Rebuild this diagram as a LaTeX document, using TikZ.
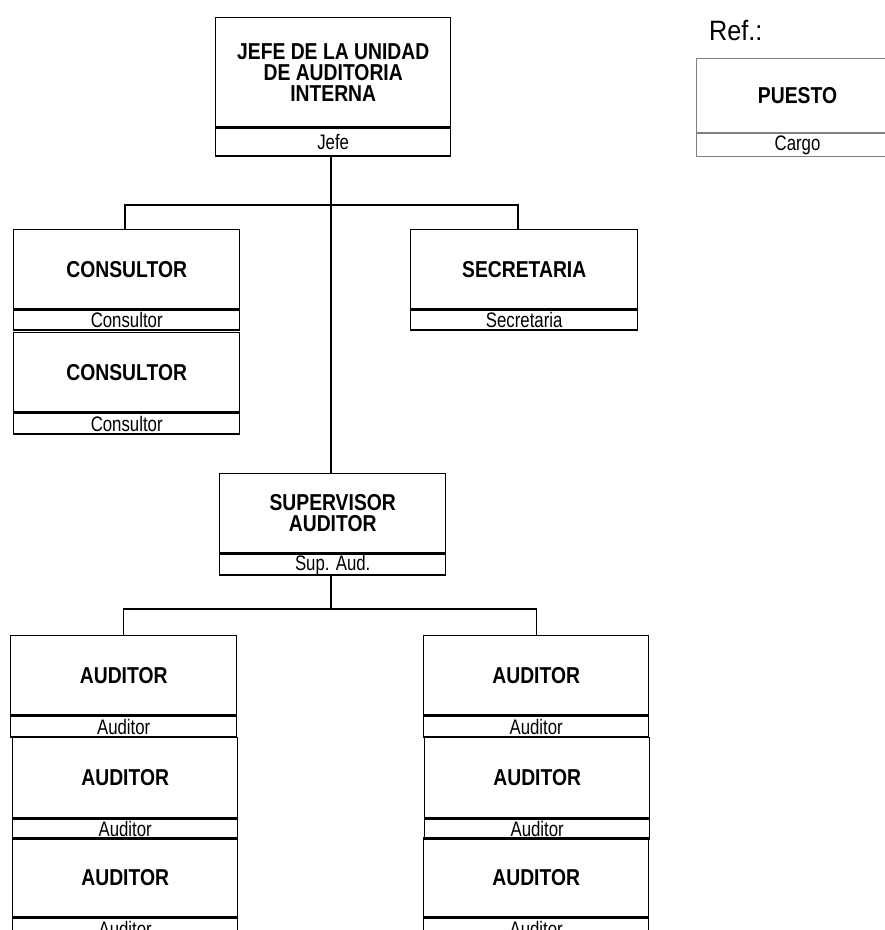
\documentclass[tikz,border=0pt]{standalone}
\usepackage{fontspec}
\setmainfont{Liberation Sans}
\newfontfamily\titlef[FakeStretch=0.84]{Liberation Sans}
\newfontfamily\labelf[FakeStretch=0.8]{Liberation Sans}
\newfontfamily\reff[FakeStretch=0.9]{Liberation Sans}
\begin{document}
\begin{tikzpicture}[x=1pt,y=-1pt,
  pbox/.style={draw, line width=1.4pt, inner sep=0pt, anchor=north west, align=center,
    font=\titlef\bfseries\fontsize{23}{21}\selectfont},
  lbox/.style={draw, line width=1.4pt, inner sep=0pt, anchor=north west,
    font=\labelf\fontsize{21}{20}\selectfont},
  conn/.style={line width=1.3pt}]
\useasboundingbox (0,0) rectangle (885,930);
\clip (0,0) rectangle (885,930);
\fill[white] (0,0) rectangle (885,930);

% Jefe
\node[pbox, minimum width=235pt, minimum height=109pt] (jefe) at (215,17) {JEFE DE LA UNIDAD\\DE AUDITORIA\\INTERNA};
\node[lbox, minimum width=235pt, minimum height=28pt] (jefeL) at (jefe.south west) {Jefe};

% Consultores
\node[pbox, minimum width=226pt, minimum height=79pt] (cons1) at (13,229) {CONSULTOR};
\node[lbox, minimum width=226pt, minimum height=20pt] (cons1L) at (cons1.south west) {Consultor};
\node[pbox, minimum width=226pt, minimum height=79pt] (cons2) at (13,332) {CONSULTOR};
\node[lbox, minimum width=226pt, minimum height=21pt] (cons2L) at (cons2.south west) {Consultor};

% Secretaria
\node[pbox, minimum width=227pt, minimum height=79pt] (sec) at (410,229) {SECRETARIA};
\node[lbox, minimum width=227pt, minimum height=20pt] (secL) at (sec.south west) {Secretaria};

% Supervisor
\node[pbox, minimum width=226pt, minimum height=79pt] (sup) at (219,473) {SUPERVISOR\\AUDITOR};
\node[lbox, minimum width=226pt, minimum height=21pt] (supL) at (sup.south west) {Sup. Aud.};

% Auditores izquierda
\node[pbox, minimum width=226pt, minimum height=79pt] (audL1) at (10,635) {AUDITOR};
\node[lbox, minimum width=226pt, minimum height=21pt] (audL1L) at (audL1.south west) {Auditor};
\node[pbox, minimum width=225pt, minimum height=80pt] (audL2) at (12,737) {AUDITOR};
\node[lbox, minimum width=225pt, minimum height=20pt] (audL2L) at (audL2.south west) {Auditor};
\node[pbox, minimum width=225pt, minimum height=79pt] (audL3) at (12,837) {AUDITOR};
\node[lbox, minimum width=225pt, minimum height=21pt] (audL3L) at (audL3.south west) {Auditor};

% Auditores derecha
\node[pbox, minimum width=225pt, minimum height=79pt] (audR1) at (423,635) {AUDITOR};
\node[lbox, minimum width=225pt, minimum height=21pt] (audR1L) at (audR1.south west) {Auditor};
\node[pbox, minimum width=225pt, minimum height=80pt] (audR2) at (424,737) {AUDITOR};
\node[lbox, minimum width=225pt, minimum height=20pt] (audR2L) at (audR2.south west) {Auditor};
\node[pbox, minimum width=225pt, minimum height=79pt] (audR3) at (423,837) {AUDITOR};
\node[lbox, minimum width=225pt, minimum height=21pt] (audR3L) at (audR3.south west) {Auditor};

% Referencia
\node[anchor=west, inner sep=0pt, font=\reff\fontsize{28}{28}\selectfont] (reft) at (709,31) {Ref.:};
\node[pbox, draw=gray, line width=1pt, minimum width=202pt, minimum height=74pt] (ref) at (696,58) {PUESTO};
\node[lbox, draw=gray, line width=1pt, minimum width=202pt, minimum height=23pt] (refL) at (ref.south west) {Cargo};

% Conectores
\coordinate (bus1) at (331,205);
\coordinate (bus2) at (331,609);
\draw[conn] (jefeL.south -| bus1) -- (sup.north -| bus1);
\draw[conn] (125,229) |- (bus1) -| (518,229);
\draw[conn] (supL.south -| bus2) -- (bus2);
\draw[conn] (audL1.north) |- (bus2) -| (audR1.north);
\end{tikzpicture}
\end{document}
